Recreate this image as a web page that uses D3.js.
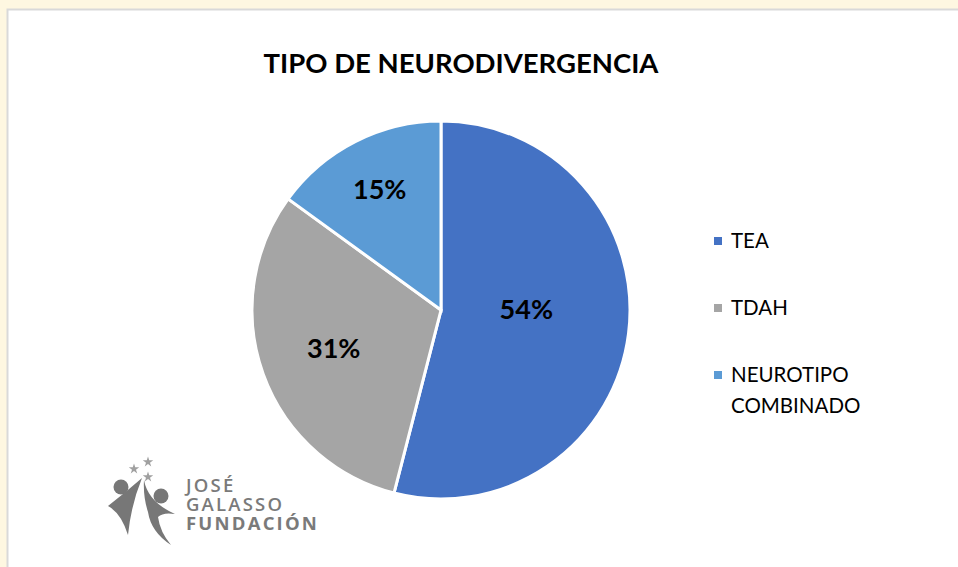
<!DOCTYPE html>
<html>
<head>
<meta charset="utf-8">
<script src="https://cdn.jsdelivr.net/npm/d3@7"></script>
<style>
  html, body { margin: 0; padding: 0; background: #fef7e1; }
  svg { display: block; }
</style>
</head>
<body>
<svg id="chart" width="958" height="567"></svg>
<script>
const categories = ["TEA", "TDAH", "NEUROTIPO COMBINADO"];
const values = [54, 31, 15];
const labels = ["54%", "31%", "15%"];
const colors = ["#4472c4", "#a5a5a5", "#5b9bd5"];
const logoLines = ["JOSÉ", "GALASSO", "FUNDACIÓN"];

const width = 958, height = 567;
const cx = 441, cy = 310, radius = 189;
// label distance from centre and small nudge, per slice (best-fit placement)
const labelRadius = [86, 114, 135];
const labelNudge = [[0, -11], [0, 0], [0, 0]];
const font = "Lato, 'Open Sans', sans-serif";

const svg = d3.select("#chart");

// panel
svg.append("rect").attr("width", width).attr("height", height).attr("fill", "#fef7e1");
svg.append("rect")
    .attr("x", 7.5).attr("y", 9.5).attr("width", 970).attr("height", 600)
    .attr("fill", "#fff").attr("stroke", "#d9d9d9").attr("stroke-width", 2);

// title
svg.append("text")
    .attr("x", 461).attr("y", 73)
    .attr("text-anchor", "middle")
    .attr("font-family", font).attr("font-weight", "bold").attr("font-size", 27.5)
    .attr("fill", "#000")
    .text("TIPO DE NEURODIVERGENCIA");

// pie
const pie = d3.pie().sort(null).value(d => d);
const arc = d3.arc().innerRadius(0).outerRadius(radius);
const arcs = pie(values);

const g = svg.append("g").attr("transform", `translate(${cx},${cy})`);
g.selectAll("path")
    .data(arcs)
    .join("path")
    .attr("d", arc)
    .attr("fill", (d, i) => colors[i])
    .attr("stroke", "#fff")
    .attr("stroke-width", 3);

g.selectAll("text")
    .data(arcs)
    .join("text")
    .attr("transform", (d, i) => {
        const a = (d.startAngle + d.endAngle) / 2;
        const x = Math.sin(a) * labelRadius[i] + labelNudge[i][0];
        const y = -Math.cos(a) * labelRadius[i] + labelNudge[i][1];
        return `translate(${x},${y})`;
    })
    .attr("text-anchor", "middle")
    .attr("dy", "0.35em")
    .attr("font-family", font).attr("font-weight", "bold").attr("font-size", 27)
    .attr("fill", "#000")
    .text((d, i) => labels[i]);

// legend
const legendY = d3.scalePoint().domain(categories).range([241, 375]);
const legend = svg.append("g");
categories.forEach((c, i) => {
    const y = legendY(c);
    legend.append("rect")
        .attr("x", 714).attr("y", y - 4).attr("width", 8).attr("height", 8)
        .attr("fill", colors[i]);
    const words = c === "NEUROTIPO COMBINADO" ? ["NEUROTIPO", "COMBINADO"] : [c];
    const t = legend.append("text")
        .attr("x", 731).attr("y", y)
        .attr("font-family", font).attr("font-size", 20.5)
        .attr("fill", "#000");
    words.forEach((w, j) => {
        t.append("tspan").attr("x", 731).attr("dy", j === 0 ? "0.35em" : 31).text(w);
    });
});

// logo
const logo = svg.append("g").attr("fill", "#777");
const star = d3.symbol().type(d3.symbolStar);
[[134, 469], [148, 462], [148, 477]].forEach(s => {
    logo.append("path").attr("transform", `translate(${s[0]},${s[1]})`)
        .attr("d", star.size(34)()).attr("fill", "#a0a0a0");
});
logo.append("circle").attr("cx", 121).attr("cy", 487).attr("r", 7.5);
logo.append("circle").attr("cx", 161).attr("cy", 496).attr("r", 7.5);
logo.append("path").attr("d", "M108,506 Q126,492 142,478 Q131,505 128,535 Q121,513 108,506 Z");
logo.append("path").attr("d", "M144,480 Q148,502 175,514 Q163,512 158,517 Q160,532 171,545 Q151,532 148,512 Q143,497 144,480 Z");
logo.selectAll("text.logo")
    .data(logoLines)
    .join("text")
    .attr("class", "logo")
    .attr("x", 186).attr("y", (d, i) => 492 + i * 19)
    .attr("font-family", "'Open Sans', sans-serif").attr("font-size", 18.5)
    .attr("font-weight", (d, i) => i === 2 ? 700 : 600)
    .attr("letter-spacing", 2.2)
    .attr("fill", "#7a7a7a")
    .text(d => d);
</script>
</body>
</html>
